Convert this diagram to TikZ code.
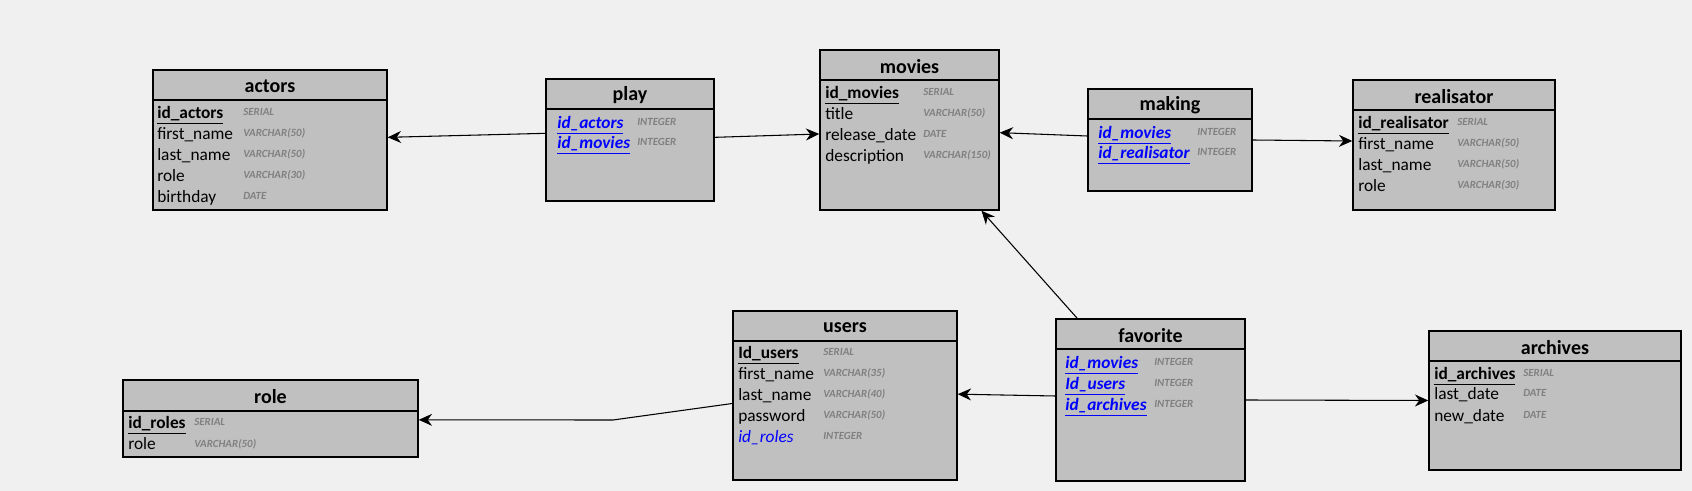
\documentclass[tikz,border=0pt]{standalone}
\usepackage{fontspec}
\setmainfont{Carlito}
\usepackage{tikz}
\usetikzlibrary{arrows.meta, positioning, fit}

\definecolor{bgc}{HTML}{F0F0F0}
\definecolor{tblgray}{HTML}{C0C0C0}
\definecolor{typgray}{HTML}{808080}
\definecolor{fkblue}{HTML}{0000FF}

\begin{document}
\begin{tikzpicture}[
  x=0.75pt, y=-0.75pt,
  tbl/.style={draw, line width=1.1pt, fill=tblgray, inner sep=0pt},
  head/.style={inner sep=0pt, minimum height=22.5pt, yshift=-1.5pt,
               font=\fontsize{15}{17}\selectfont\bfseries},
  sep/.style={line width=1.1pt},
  fld/.style={anchor=west, inner sep=0pt, text height=9pt, text depth=3pt, yshift=-2pt,
              font=\fontsize{13}{15}\selectfont},
  pk/.style={fld, font=\fontsize{13}{15}\selectfont\bfseries},
  fk/.style={fld, text=fkblue, font=\fontsize{13}{15}\selectfont\bfseries\itshape},
  typ/.style={anchor=west, inner sep=0pt, text height=6pt, text depth=2pt, yshift=-1pt,
              text=typgray, font=\fontsize{8.2}{10}\selectfont\bfseries\itshape},
  arr/.style={-{Stealth[length=10pt, width=9pt]}, line width=0.8pt}
]
  \fill[bgc] (0,0) rectangle (1692,491);
  \useasboundingbox (0,0) rectangle (1692,491);

  % actors
  \node[tbl, fit={(153,70) (387,210)}] (actors) {};
  \node[head, below=0pt of actors.north] (actors-h) {actors};
  \draw[sep] (actors.west |- 0,100) -- (actors.east |- 0,100);
  \node[pk] (actors-f0) at (157,112) {\underline{id\_actors}};
  \node[typ] (actors-t0) at (243,112) {SERIAL};
  \foreach \f/\t [count=\i] in {first\_name/VARCHAR(50), last\_name/VARCHAR(50),
                                role/VARCHAR(30), birthday/DATE}
  {
    \node[fld] (actors-f\i) at (157,{112+21*\i}) {\f};
    \node[typ] (actors-t\i) at (243,{112+21*\i}) {\t};
  }

  % play
  \node[tbl, fit={(546,79) (714,201)}] (play) {};
  \node[head, below=0pt of play.north] (play-h) {play};
  \draw[sep] (play.west |- 0,109) -- (play.east |- 0,109);
  \node[fk] (play-f1) at (557,122) {\underline{id\_actors}};
  \node[typ] (play-t1) at (637,122) {INTEGER};
  \node[fk] (play-f2) at (557,142) {\underline{id\_movies}};
  \node[typ] (play-t2) at (637,142) {INTEGER};

  % movies
  \node[tbl, fit={(820,50) (999,210)}] (movies) {};
  \node[head, below=0pt of movies.north] (movies-h) {movies};
  \draw[sep] (movies.west |- 0,80) -- (movies.east |- 0,80);
  \node[pk] (movies-f0) at (825,92) {\underline{id\_movies}};
  \node[typ] (movies-t0) at (923,92) {SERIAL};
  \foreach \f/\t [count=\i] in {title/VARCHAR(50), release\_date/DATE,
                                description/VARCHAR(150)}
  {
    \node[fld] (movies-f\i) at (825,{92+21*\i}) {\f};
    \node[typ] (movies-t\i) at (923,{92+21*\i}) {\t};
  }

  % making
  \node[tbl, fit={(1088,89) (1252,191)}] (making) {};
  \node[head, below=0pt of making.north] (making-h) {making};
  \draw[sep] (making.west |- 0,119) -- (making.east |- 0,119);
  \node[fk] (making-f1) at (1098,132) {\underline{id\_movies}};
  \node[typ] (making-t1) at (1197,132) {INTEGER};
  \node[fk] (making-f2) at (1098,152) {\underline{id\_realisator}};
  \node[typ] (making-t2) at (1197,152) {INTEGER};

  % realisator
  \node[tbl, fit={(1353,80) (1555,210)}] (realisator) {};
  \node[head, below=0pt of realisator.north] (realisator-h) {realisator};
  \draw[sep] (realisator.west |- 0,110) -- (realisator.east |- 0,110);
  \node[pk] (realisator-f0) at (1358,122) {\underline{id\_realisator}};
  \node[typ] (realisator-t0) at (1457,122) {SERIAL};
  \foreach \f/\t [count=\i] in {first\_name/VARCHAR(50), last\_name/VARCHAR(50),
                                role/VARCHAR(30)}
  {
    \node[fld] (realisator-f\i) at (1358,{122+21*\i}) {\f};
    \node[typ] (realisator-t\i) at (1457,{122+21*\i}) {\t};
  }

  % role
  \node[tbl, fit={(123,380) (418,457)}] (role) {};
  \node[head, below=0pt of role.north] (role-h) {role};
  \draw[sep] (role.west |- 0,411) -- (role.east |- 0,411);
  \node[pk] (role-f0) at (128,422) {\underline{id\_roles}};
  \node[typ] (role-t0) at (194,422) {SERIAL};
  \node[fld] (role-f1) at (128,443) {role};
  \node[typ] (role-t1) at (194,443) {VARCHAR(50)};

  % users
  \node[tbl, fit={(733,311) (957,480)}] (users) {};
  \node[head, below=0pt of users.north] (users-h) {users};
  \draw[sep] (users.west |- 0,341) -- (users.east |- 0,341);
  \node[pk] (users-f0) at (738,352) {\underline{Id\_users}};
  \node[typ] (users-t0) at (823,352) {SERIAL};
  \foreach \f/\t [count=\i] in {first\_name/VARCHAR(35), last\_name/VARCHAR(40),
                                password/VARCHAR(50)}
  {
    \node[fld] (users-f\i) at (738,{352+21*\i}) {\f};
    \node[typ] (users-t\i) at (823,{352+21*\i}) {\t};
  }
  \node[fld, text=fkblue, font=\fontsize{13}{15}\selectfont\itshape] (users-f4) at (738,436) {id\_roles};
  \node[typ] (users-t4) at (823,436) {INTEGER};

  % favorite
  \node[tbl, fit={(1056,319) (1245,481)}] (favorite) {};
  \node[head, below=0pt of favorite.north] (favorite-h) {favorite};
  \draw[sep] (favorite.west |- 0,349) -- (favorite.east |- 0,349);
  \foreach \f [count=\i] in {id\_movies, Id\_users, id\_archives}
  {
    \node[fk] (favorite-f\i) at (1065,{341+21*\i}) {\underline{\f}};
    \node[typ] (favorite-t\i) at (1154,{341+21*\i}) {INTEGER};
  }

  % archives
  \node[tbl, fit={(1429,331) (1681,470)}] (archives) {};
  \node[head, below=0pt of archives.north] (archives-h) {archives};
  \draw[sep] (archives.west |- 0,361) -- (archives.east |- 0,361);
  \node[pk] (archives-f0) at (1434,373) {\underline{id\_archives}};
  \node[typ] (archives-t0) at (1523,373) {SERIAL};
  \node[fld] (archives-f1) at (1434,393) {last\_date};
  \node[typ] (archives-t1) at (1523,393) {DATE};
  \node[fld] (archives-f2) at (1434,415) {new\_date};
  \node[typ] (archives-t2) at (1523,415) {DATE};

  % links
  \coordinate (rbend) at (613,420);
  \draw[arr] ([yshift=5pt]play.west) -- ([yshift=2pt]actors.east);
  \draw[arr] ([yshift=2pt]play.east) -- ([yshift=-3pt]movies.west);
  \draw[arr] ([yshift=3pt]making.west) -- ([yshift=-2pt]movies.east);
  \draw[arr] (making.east) -- ([yshift=3pt]realisator.west);
  \draw[arr] ([xshift=-55pt]favorite.north) -- ([xshift=54pt]movies.south);
  \draw[arr] ([yshift=3pt]favorite.west) -- ([yshift=1pt]users.east);
  \draw[arr] (favorite.east) -- (archives.west);
  \draw[arr] ([yshift=-6pt]users.west) -- (rbend) -- ([yshift=-1pt]role.east);
\end{tikzpicture}
\end{document}
